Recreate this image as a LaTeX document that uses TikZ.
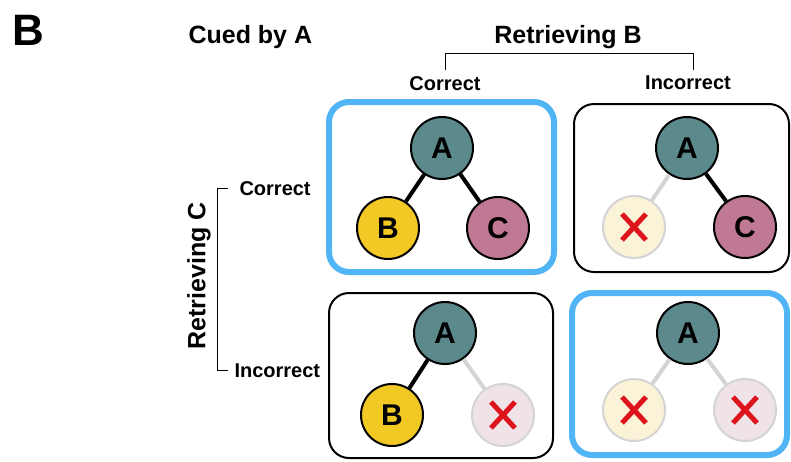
\documentclass[tikz,border=0pt]{standalone}
\usepackage{fontspec}
\setmainfont{Liberation Sans}
\usetikzlibrary{positioning,calc}

\definecolor{cueA}{RGB}{92,138,140}
\definecolor{itemB}{RGB}{242,201,36}
\definecolor{itemC}{RGB}{192,121,149}
\definecolor{lostB}{RGB}{251,243,216}
\definecolor{lostC}{RGB}{239,227,232}
\definecolor{lostline}{RGB}{212,212,212}
\definecolor{hitblue}{RGB}{80,180,245}
\definecolor{crossred}{RGB}{222,20,28}

\tikzset{
  item/.style={circle, draw=black, line width=2pt, minimum size=62pt, inner sep=0pt,
    font=\fontsize{30}{30}\selectfont\bfseries},
  lost/.style={circle, draw=lostline, line width=2pt, minimum size=62pt, inner sep=0pt},
  cross/.style={crossred, line width=5pt},
  tie/.style={line width=4pt, black},
  untie/.style={line width=4pt, lostline},
  panel/.style={draw=black, line width=2pt, rounded corners=20pt, inner sep=0pt},
  hitpanel/.style={panel, draw=hitblue, line width=6pt},
  head/.style={font=\fontsize{25}{25}\selectfont\bfseries},
  sub/.style={font=\fontsize{20}{20}\selectfont\bfseries},
}

\newcommand{\lostitem}[3]{%
  \node[lost, fill=#3] (#1) at (#2) {};
  \draw[cross] ($(#1)+(-12,-13)$) -- ($(#1)+(12,13)$);
  \draw[cross] ($(#1)+(-12,13)$) -- ($(#1)+(12,-13)$);
}

\begin{document}
\begin{tikzpicture}[x=1pt, y=-1pt]
  \useasboundingbox (0,0) rectangle (791,461);

  % titles
  \node[font=\fontsize{44}{44}\selectfont\bfseries, anchor=base west] (lab) at (9,45) {B};
  \node[head, anchor=base west] (cue) at (185,43) {Cued by A};
  \node[head, anchor=base] (retB) at (568,43) {Retrieving B};
  \node[sub, anchor=base] (okB) at (445,90) {Correct};
  \node[sub, anchor=base] (noB) at (688,89) {Incorrect};
  \node[head, rotate=90] (retC) at (199,276) {Retrieving C};
  \node[sub, anchor=base west] (okC) at (236,195) {Correct};
  \node[sub, anchor=base west] (noC) at (231,377) {Incorrect};

  % brackets
  \coordinate (bl) at (445,70);
  \coordinate (br) at (693,70);
  \draw[line width=1pt] (bl) -- ++(0,-17) -| (br);
  \coordinate (ct) at (228,188);
  \coordinate (cb) at (228,370);
  \draw[line width=1pt] (ct) -- ++(-11,0) |- (cb);

  % panels
  \node[hitpanel, minimum width=225pt, minimum height=170pt] (p11) at (441.5,187) {};
  \node[panel, minimum width=215pt, minimum height=168pt] (p12) at (681.5,188) {};
  \node[panel, minimum width=224pt, minimum height=165pt] (p21) at (441,375.5) {};
  \node[hitpanel, minimum width=215pt, minimum height=162pt] (p22) at (679.5,374) {};

  % both correct
  \node[item, fill=cueA] (a11) at (442,148) {A};
  \node[item, fill=itemB] (b11) at (388,228) {B};
  \node[item, fill=itemC] (c11) at (498,228) {C};
  \draw[tie] (a11) -- (b11);
  \draw[tie] (a11) -- (c11);

  % B wrong, C correct
  \node[item, fill=cueA] (a12) at (687,148) {A};
  \lostitem{b12}{634,227}{lostB}
  \node[item, fill=itemC] (c12) at (745,227) {C};
  \draw[untie] (a12) -- (b12);
  \draw[tie] (a12) -- (c12);

  % B correct, C wrong
  \node[item, fill=cueA] (a21) at (445,333) {A};
  \node[item, fill=itemB] (b21) at (392,415) {B};
  \lostitem{c21}{503,415}{lostC}
  \draw[tie] (a21) -- (b21);
  \draw[untie] (a21) -- (c21);

  % both wrong
  \node[item, fill=cueA] (a22) at (688,333) {A};
  \lostitem{b22}{634,410}{lostB}
  \lostitem{c22}{745,410}{lostC}
  \draw[untie] (a22) -- (b22);
  \draw[untie] (a22) -- (c22);
\end{tikzpicture}
\end{document}
